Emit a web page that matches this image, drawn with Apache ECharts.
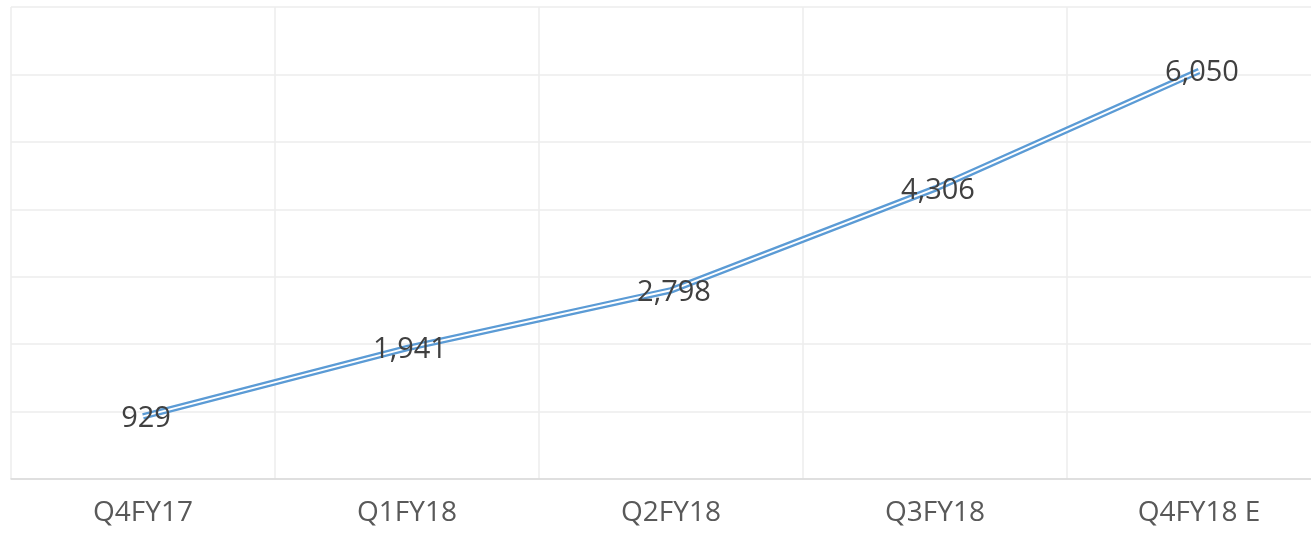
<!DOCTYPE html>
<html>
<head>
<meta charset="utf-8">
<script src="https://cdn.jsdelivr.net/npm/echarts@6/dist/echarts.min.js"></script>
<style>
html,body{margin:0;padding:0;background:#fff;}
#chart{width:1311px;height:533px;}
</style>
</head>
<body>
<div id="chart"></div>
<script>
const categories = ["Q4FY17", "Q1FY18", "Q2FY18", "Q3FY18", "Q4FY18 E"];
const values = [929, 1941, 2798, 4306, 6050];

const chart = echarts.init(document.getElementById('chart'));
chart.setOption({
  animation: false,
  backgroundColor: '#ffffff',
  grid: { left: 11, width: 1320, top: 7, height: 472, containLabel: false, outerBoundsMode: 'none' },
  xAxis: {
    type: 'category',
    data: categories,
    boundaryGap: true,
    axisTick: { show: false },
    axisLine: { lineStyle: { color: '#d9d9d9', width: 1.5 } },
    splitLine: { show: true, lineStyle: { color: '#ececec', width: 1.5 } },
    axisLabel: { color: '#595959', fontFamily: 'Open Sans', fontSize: 28, margin: 20 }
  },
  yAxis: {
    type: 'value',
    min: 0, max: 7000, interval: 1000,
    axisLabel: { show: false },
    axisLine: { show: false },
    axisTick: { show: false },
    splitLine: { lineStyle: { color: '#ececec', width: 1.5 } }
  },
  series: [
    {
      type: 'line', data: values, symbol: 'none', z: 2,
      lineStyle: { color: '#5b9bd5', width: 6.5, cap: 'butt', join: 'miter' }
    },
    {
      type: 'line', data: values, symbol: 'circle', symbolSize: 0.1, z: 3,
      itemStyle: { color: 'rgba(0,0,0,0)' },
      lineStyle: { color: '#ffffff', width: 2, cap: 'butt', join: 'miter' },
      label: {
        show: true, position: 'inside',
        formatter: p => p.value.toLocaleString('en-US'),
        color: '#404040', fontFamily: 'Open Sans', fontSize: 29, offset: [3, 2]
      }
    }
  ]
});
</script>
</body>
</html>
